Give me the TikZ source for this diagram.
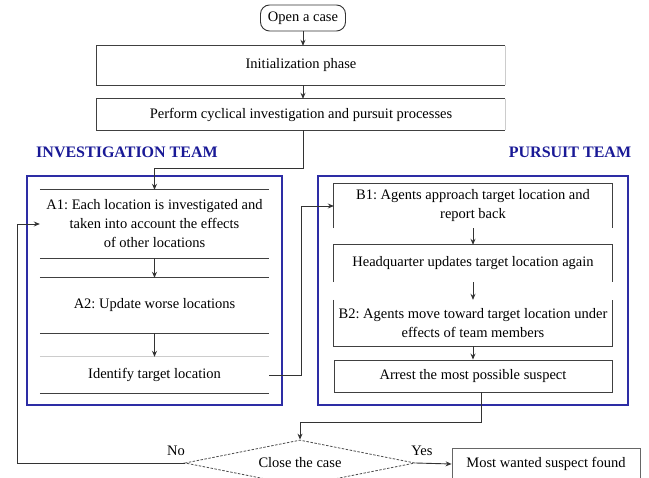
\documentclass[tikz,border=0pt]{standalone}
\usepackage{fontspec}
\setmainfont{Liberation Serif}
\usetikzlibrary{shapes.geometric,arrows.meta}
\definecolor{teamblue}{RGB}{45,45,165}
\definecolor{lab}{RGB}{25,25,150}
\frenchspacing
\begin{document}
\begin{tikzpicture}[x=1pt,y=-1pt, font=\fontsize{14.5}{19}\selectfont,
  txt/.style={inner sep=0pt, align=center},
  ln/.style={draw=black!75, line width=0.9pt},
  faint/.style={draw=black!20, line width=0.9pt},
  arr/.style={draw=black!80, line width=0.9pt, -{Stealth[length=6pt,width=5pt]}},
  team/.style={draw=teamblue, line width=1.5pt},
  lbl/.style={text=lab, font=\fontsize{16}{18}\selectfont\bfseries}]
\useasboundingbox (0,0) rectangle (649,478);
\clip (0,0) rectangle (649,478);
% top
\node[draw=black!80, line width=0.9pt, rounded corners=9pt, minimum width=85, minimum height=26, inner sep=0pt] (open) at (303,18) {Open a case};
\node[txt, minimum width=408, minimum height=39] (init) at (301,65.5) {Initialization phase};
\draw[ln] (init.north east) -- (init.north west) -- (init.south west) -- (init.south east);
\draw[faint] (init.north east) -- (init.south east);
\node[txt, minimum width=408, minimum height=31] (perf) at (301,114.5) {Perform cyclical investigation and pursuit processes};
\draw[ln] (perf.north east) -- (perf.north west) -- (perf.south west) -- (perf.south east);
\draw[faint] (perf.north east) -- (perf.south east);
\draw[arr] (open.south) -- (open.south |- init.north);
\draw[arr] (open.south |- init.south) -- (open.south |- perf.north);
% labels
\node[lbl] (invlbl) at (127,152) {INVESTIGATION TEAM};
\node[lbl] (purlbl) at (570,152) {PURSUIT TEAM};
% team boxes
\node[team, minimum width=255, minimum height=229, inner sep=0pt] (invbox) at (154.5,290.5) {};
\node[team, minimum width=310, minimum height=229, inner sep=0pt] (purbox) at (473,290.5) {};
% investigation blocks
\node[txt, minimum width=229, minimum height=68] (A1) at (154.5,224) {A1: Each location is investigated and\\taken into account the effects\\of other locations};
\draw[ln] (A1.north west) -- (A1.north east);
\draw[ln] (A1.south west) -- (A1.south east);
\node[txt, minimum width=229, minimum height=55] (A2) at (154.5,305.5) {A2: Update worse locations};
\draw[ln] (A2.north west) -- (A2.north east);
\draw[ln] (A2.south west) -- (A2.south east);
\node[txt, minimum width=229, minimum height=36] (ID) at (154.5,375) {Identify target location};
\draw[faint] (ID.north west) -- (ID.north east);
\draw[ln] (ID.south west) -- (ID.south east);
\draw[arr] (A1.south) -- (A2.north);
\draw[arr] (A2.south) -- (ID.north);
% pursuit blocks
\node[txt, minimum width=278, minimum height=44] (B1) at (473,206) {B1: Agents approach target location and\\report back};
\draw[ln] (B1.south west) -- (B1.north west) -- (B1.north east) -- (B1.south east);
\node[txt, minimum width=278, minimum height=37] (HQ) at (473,263.5) {Headquarter updates target location again};
\draw[ln] (HQ.south west) -- (HQ.north west) -- (HQ.north east) -- (HQ.south east);
\node[txt, minimum width=278, minimum height=46] (B2) at (473,323) {B2: Agents move toward target location under\\effects of team members};
\draw[ln] (B2.north west) -- (B2.south west) -- (B2.south east) -- (B2.north east);
\node[txt, draw=black!75, line width=0.9pt, minimum width=278, minimum height=32] (AR) at (473,376) {Arrest the most possible suspect};
\draw[arr] (B1.south) -- (HQ.north);
\draw[arr] (HQ.south) -- (B2.north);
\draw[arr] (B2.south) -- (AR.north);
% decision
\node[diamond, draw=black!70, line width=0.8pt, dash pattern=on 2.5pt off 1.5pt, minimum width=230, minimum height=46, aspect=5, inner sep=0pt] (dia) at (300,463) {Close the case};
\node[txt, draw=black!60, line width=0.8pt, minimum width=188, minimum height=32] (mw) at (546,464) {Most wanted suspect found};
\node (no) at (176,451) {No};
\node (yes) at (422,451) {Yes};
\coordinate (lp) at (17,463);
% connectors
\draw[arr] (open.south |- perf.south) -- ++(0,38) -| (A1.north);
\draw[arr] (ID.east) -- ++(32,0) |- (B1.west);
\draw[arr] ([xshift=8pt]AR.south) -- ++(0,30) -| (dia.north);
\draw[arr] (dia.west) -- (lp) |- (A1.west);
\draw[arr] (dia.east) -- (mw.west);
\end{tikzpicture}
\end{document}
